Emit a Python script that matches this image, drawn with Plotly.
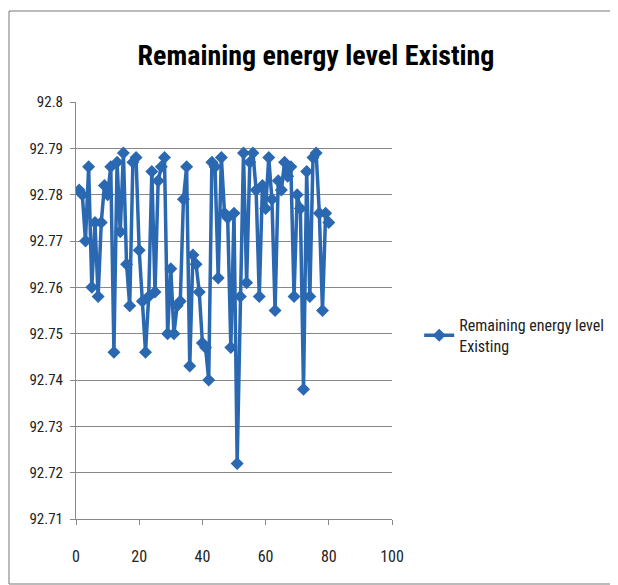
import plotly.graph_objects as go

x_vals = list(range(1, 81))
energy = [
    92.781, 92.780, 92.770, 92.786, 92.760, 92.774, 92.758, 92.774, 92.782, 92.780,
    92.786, 92.746, 92.787, 92.772, 92.789, 92.765, 92.756, 92.787, 92.788, 92.768,
    92.757, 92.746, 92.758, 92.785, 92.759, 92.783, 92.786, 92.788, 92.750, 92.764,
    92.750, 92.756, 92.757, 92.779, 92.786, 92.743, 92.767, 92.765, 92.759, 92.748,
    92.747, 92.740, 92.787, 92.786, 92.762, 92.788, 92.776, 92.775, 92.747, 92.776,
    92.722, 92.758, 92.789, 92.761, 92.787, 92.789, 92.781, 92.758, 92.782, 92.777,
    92.788, 92.779, 92.755, 92.783, 92.781, 92.787, 92.784, 92.786, 92.758, 92.780,
    92.777, 92.738, 92.785, 92.758, 92.788, 92.789, 92.776, 92.755, 92.776, 92.774,
]
series_name = "Remaining energy level<br>Existing"
title_text = "Remaining energy level Existing"
y_ticks = [92.71, 92.72, 92.73, 92.74, 92.75, 92.76, 92.77, 92.78, 92.79, 92.8]
y_tick_text = ["92.71", "92.72", "92.73", "92.74", "92.75", "92.76", "92.77", "92.78", "92.79", "92.8"]
x_ticks = [0, 20, 40, 60, 80, 100]

FONT = "Liberation Sans Narrow, Roboto Condensed, Arial Narrow, sans-serif"
BLUE = "#2A68B1"

fig = go.Figure()
fig.add_trace(go.Scatter(
    x=x_vals, y=energy, mode="lines+markers", name=series_name,
    line=dict(color=BLUE, width=3.5),
    marker=dict(symbol="diamond", size=10, color=BLUE),
))

W, H = 610, 577
L, T, PW, PH = 68, 94, 316, 417

fig.update_layout(
    width=W, height=H,
    paper_bgcolor="white", plot_bgcolor="white",
    margin=dict(l=L, r=W - L - PW, t=T, b=H - T - PH, autoexpand=False),
    title=dict(text=f"<b>{title_text}</b>", x=308 / W, xanchor="center", y=1 - 47 / H, yanchor="middle",
               font=dict(family=FONT, size=28, color="black")),
    font=dict(family=FONT, size=15, color="#222"),
    showlegend=True,
    legend=dict(x=1.086, y=0.44, xanchor="left", yanchor="middle",
                font=dict(family=FONT, size=16, color="#222"),
                bgcolor="rgba(0,0,0,0)"),
    xaxis=dict(range=[0, 100], tickvals=x_ticks, showgrid=False, zeroline=False,
               showline=True, linecolor="#888", linewidth=1,
               ticks="outside", ticklen=5, tickcolor="#888",
               tickfont=dict(family=FONT, size=16, color="#222"), ticklabelstandoff=18),
    yaxis=dict(range=[92.71, 92.8], tickvals=y_ticks, ticktext=y_tick_text,
               showgrid=True, gridcolor="#888", gridwidth=1, zeroline=False,
               showline=True, linecolor="#888", linewidth=1,
               ticks="outside", ticklen=5, tickcolor="#888",
               tickfont=dict(family=FONT, size=15, color="#222"), ticklabelstandoff=4),
    shapes=[dict(type="rect", xref="paper", yref="paper",
                 x0=(1 - L) / PW, x1=(607 - L) / PW,
                 y0=-(576 - T - PH) / PH, y1=1 + (T - 3) / PH,
                 line=dict(color="#777", width=1), layer="below")],
)

fig.write_html("out.html")
